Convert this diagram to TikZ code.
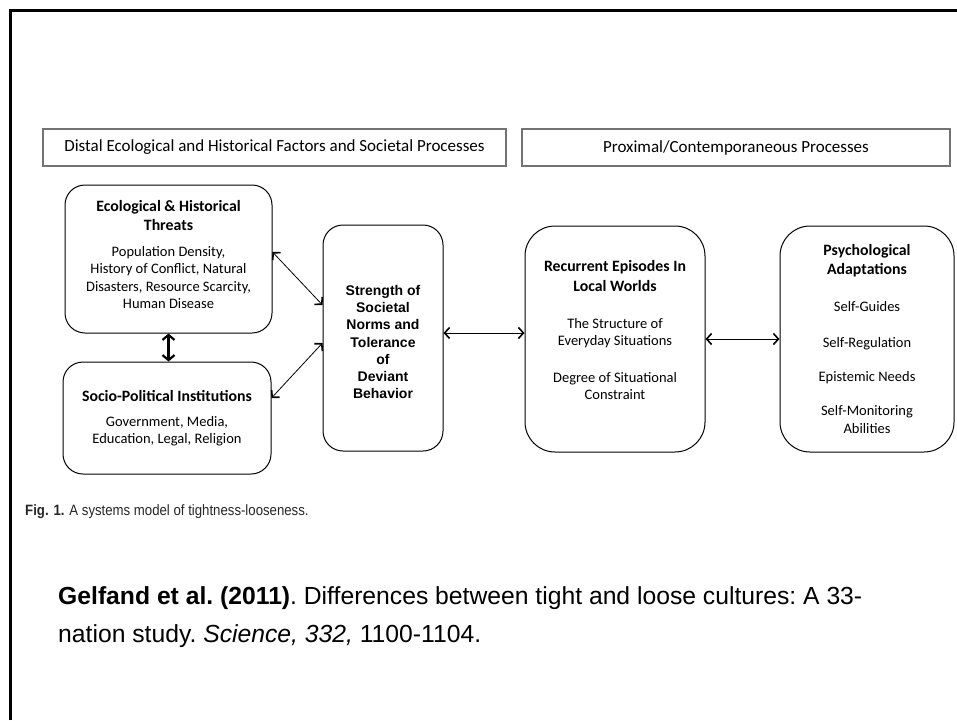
\documentclass[tikz,border=0pt]{standalone}
\usepackage{fontspec}
\setmainfont{Carlito}
\newfontfamily\arialfont{Liberation Sans}
\newfontfamily\narrowfont[FakeStretch=0.88]{Liberation Sans}
\usetikzlibrary{arrows.meta}
\newcommand\hd[1]{{\fontsize{15.8}{19.3}\selectfont\bfseries #1}}
\tikzset{
  panel/.style={draw, line width=1pt, rounded corners=20pt, align=center, inner sep=0pt,
    font=\fontsize{14.5}{17.4}\selectfont},
  banner/.style={draw=black!55, line width=2pt, inner sep=0pt, font=\fontsize{17}{20}\selectfont},
  link/.style={line width=0.8pt, {Straight Barb[length=5pt,width=11pt,line width=1.6pt]}-{Straight Barb[length=5pt,width=11pt,line width=1.6pt]}},
}
\begin{document}
\begin{tikzpicture}[x=1pt,y=-1pt]
  \useasboundingbox (0,0) rectangle (957,720);
  \draw [line width=3pt] (10,720) -- (10,10) -- (957,10);
  % en-tetes
  \node [banner, minimum width=463, minimum height=37] (distal) at (274.5,147.5)
    {Distal Ecological and Historical Factors and Societal Processes};
  \node [banner, minimum width=428, minimum height=37] (proximal) at (736,147.5)
    {Proximal/Contemporaneous Processes};
  % boites
  \node [panel, minimum width=207, minimum height=148] (eco) at (168.5,259)
    {\hd{Ecological \& Historical}\\[1.9pt]\hd{Threats}\\[8pt]
     Population Density,\\History of Conflict, Natural\\Disasters, Resource Scarcity,\\Human Disease\\[-8.4pt]\mbox{}};
  \node [panel, minimum width=208, minimum height=112] (socio) at (167,418)
    {\hd{Socio-Political Institutions}\\[7.6pt]
     Government, Media,\\Education, Legal, Religion};
  \node [panel, minimum width=120, minimum height=226,
    font=\arialfont\bfseries\fontsize{14}{17.3}\selectfont] (norms) at (383,338)
    {\mbox{}\\[1pt]Strength of\\Societal\\Norms and\\Tolerance\\of\\Deviant\\Behavior};
  \node [panel, rounded corners=30pt, minimum width=180, minimum height=226] (episodes) at (615,339)
    {\hd{Recurrent Episodes In}\\[1.9pt]\hd{Local Worlds}\\[19.5pt]
     The Structure of\\Everyday Situations\\[19.3pt]
     Degree of Situational\\Constraint\\[0pt]\mbox{}};
  \node [panel, rounded corners=30pt, minimum width=174, minimum height=226] (adapt) at (867,339)
    {\hd{Psychological}\\[1.9pt]\hd{Adaptations}\\[19.3pt]
     Self-Guides\\[18.2pt]Self-Regulation\\[17pt]Epistemic Needs\\[17pt]
     Self-Monitoring\\Abilities};
  % fleches
  \draw [link] ([yshift=7pt]eco.east) -- ([yshift=33pt]norms.west);
  \draw [link] ([yshift=20pt]socio.east) -- ([yshift=-5pt]norms.west);
  \draw [line width=2.2pt, {Straight Barb[length=5pt,width=12pt]}-{Straight Barb[length=5pt,width=12pt]}]
    (eco.south) -- (eco.south |- socio.north);
  \draw [link] ([yshift=5pt]norms.east) -- ([yshift=5pt]norms.east -| episodes.west);
  \draw [link] (episodes.east) -- (adapt.west);
  % legendes
  \node [anchor=west, inner sep=0pt, text=black!85, font=\narrowfont\fontsize{15}{18}\selectfont] (fig) at (25,512)
    {\textbf{Fig. 1.} A systems model of tightness-looseness.};
  \node [anchor=west, inner sep=0pt, align=left, font=\arialfont\fontsize{24.7}{38}\selectfont\frenchspacing] (cite) at (58,617)
    {\textbf{Gelfand et al. (2011)}. Differences between tight and loose cultures: A 33-\\
     nation study. \textit{Science, 332,} 1100-1104.};
\end{tikzpicture}
\end{document}
